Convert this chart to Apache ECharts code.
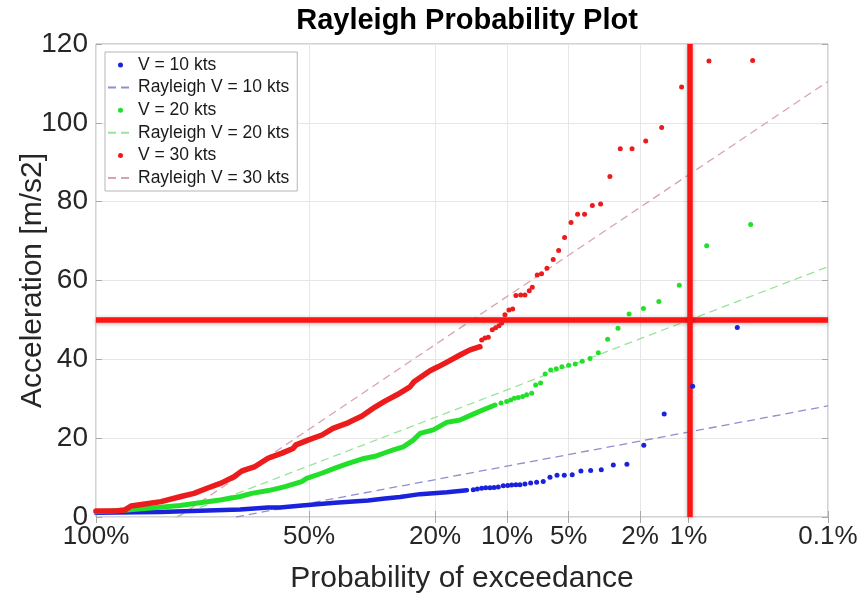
<!DOCTYPE html>
<html><head><meta charset="utf-8">
<script src="https://cdn.jsdelivr.net/npm/echarts@6/dist/echarts.min.js"></script>
<style>html,body{margin:0;padding:0;background:#fff}#chart{width:861px;height:595px}</style>
</head><body><div id="chart"></div>
<script>
// ---- axis definitions (probability of exceedance, %) ----
const xTickProbs = [99.1, 50, 20, 10, 5, 2, 1, 0.1];
const xTickLabels = ['100%', '50%', '20%', '10%', '5%', '2%', '1%', '0.1%'];
const xMinProb = 99.1;
const xMaxProb = 0.1;
const yTicks = [0, 20, 40, 60, 80, 100, 120];
const thresholdAcc = 50;
const thresholdProb = 1;

// ---- V = 10 kts ----
const v10DenseProb = [99.10, 90.46, 81.30, 70.32, 62.09, 58.53, 52.06, 42.73, 34.16, 30.14, 26.82, 22.78, 17.99, 14.94];
const v10DenseAcc  = [1.1, 1.3, 1.6, 1.9, 2.4, 2.4, 2.9, 3.6, 4.2, 4.7, 5.1, 5.8, 6.3, 6.8];
const v10Prob = [14.06, 13.52, 12.95, 12.44, 11.92, 11.44, 10.95, 10.40, 9.93, 9.52, 9.10, 8.71, 8.25, 7.75, 7.25, 6.73, 6.23, 5.74, 5.27, 4.79, 4.31, 3.82, 3.34, 2.86, 2.39, 1.90, 1.427, 0.942, 0.472];
const v10Acc  = [6.9, 7.1, 7.3, 7.4, 7.4, 7.5, 7.6, 7.9, 8.0, 8.1, 8.2, 8.2, 8.4, 8.6, 8.8, 9.0, 10.1, 10.6, 10.6, 10.7, 11.7, 11.8, 12.0, 13.2, 13.4, 18.2, 26.1, 33.2, 48.1];
const fit10Prob = [71.47, 0.1];
const fit10Acc  = [0, 28.2];

// ---- V = 20 kts ----
const v20DenseProb = [99.10, 95.99, 90.46, 86.17, 81.30, 75.97, 70.32, 66.91, 62.00, 58.53, 57.05, 52.15, 50.70, 46.42, 42.73, 39.16, 35.73, 32.47, 30.14, 28.28, 26.13, 24.09, 22.78, 20.32, 18.04, 15.96, 14.06, 12.74, 11.33];
const v20DenseAcc  = [1.3, 1.8, 2.5, 2.9, 3.6, 4.3, 5.2, 6.0, 6.7, 7.4, 7.7, 9.0, 9.8, 11.1, 12.4, 13.6, 14.7, 15.4, 16.3, 17.0, 17.8, 19.5, 21.2, 22.1, 24.0, 24.6, 26.1, 27.2, 28.4];
const v20Prob = [10.65, 10.04, 9.62, 9.26, 8.87, 8.46, 8.10, 7.66, 7.33, 6.94, 6.58, 6.18, 5.79, 5.42, 5.00, 4.62, 4.24, 3.85, 3.47, 3.08, 2.69, 2.32, 1.91, 1.54, 1.148, 0.762, 0.380];
const v20Acc  = [28.9, 29.3, 29.7, 30.1, 30.3, 30.6, 31.0, 31.4, 33.5, 34.0, 36.3, 37.3, 37.6, 38.1, 38.5, 38.8, 39.5, 40.2, 41.7, 45.1, 47.9, 51.5, 52.9, 54.7, 58.8, 68.8, 74.2];
const fit20Prob = [87.19, 0.1];
const fit20Acc  = [0, 63.5];

// ---- V = 30 kts ----
const v30DenseProb = [99.10, 98.42, 97.44, 96.25, 95.43, 93.23, 90.26, 85.94, 82.81, 79.48, 75.70, 72.04, 69.74, 65.94, 62.09, 57.94, 54.69, 53.81, 50.32, 46.33, 43.28, 39.25, 35.65, 32.47, 30.14, 27.47, 24.75, 23.95, 20.91, 19.50, 17.99, 15.96, 14.51, 13.17];
const v30DenseAcc  = [1.5, 1.5, 1.5, 1.8, 2.8, 3.3, 3.9, 5.2, 6.0, 7.3, 8.6, 10.2, 11.7, 12.8, 14.9, 16.2, 17.4, 18.3, 19.5, 20.8, 22.5, 23.9, 25.6, 27.9, 29.4, 31.0, 33.0, 34.3, 37.1, 38.1, 39.3, 41.1, 42.4, 43.2];
const v30Prob = [12.95, 12.53, 12.12, 11.64, 11.25, 10.87, 10.57, 10.22, 9.80, 9.42, 9.10, 8.64, 8.25, 7.87, 7.61, 7.20, 6.86, 6.45, 6.00, 5.63, 5.25, 4.86, 4.49, 4.12, 3.74, 3.37, 2.99, 2.61, 2.23, 1.85, 1.48, 1.11, 0.736, 0.368];
const v30Acc  = [44.9, 45.4, 45.6, 47.5, 48.0, 48.5, 49.2, 51.3, 52.5, 52.8, 56.2, 56.3, 56.3, 57.4, 58.3, 61.4, 61.7, 63.1, 65.3, 67.6, 70.9, 74.7, 76.8, 76.8, 79.0, 79.4, 86.4, 93.4, 93.4, 95.4, 98.8, 109.1, 115.7, 115.8];
const fit30Prob = [86.63, 0.1];
const fit30Acc  = [0, 110.5];

// Rayleigh reduced variate for the probability axis
const rz = p => Math.sqrt(-Math.log(p / 100));
const pairs = (ps, vs) => ps.map((p, i) => [rz(p), vs[i]]);
const xTickVals = xTickProbs.map(rz);

const FONT = 'Liberation Sans, Arial, Helvetica, sans-serif';
const C10 = '#1a22dc', C20 = '#22e02a', C30 = '#ec1c1c';
const F10 = '#8f8fcf', F20 = '#98e49a', F30 = '#d9a3ac';

const chart = echarts.init(document.getElementById('chart'), null, {renderer: 'canvas'});
const xLabelFmt = v => {
  for (let i = 0; i < xTickVals.length; i++) if (Math.abs(xTickVals[i] - v) < 1e-6) return xTickLabels[i];
  return '';
};
const boxColor = '#a9a9a9';
const hideSym = {opacity: 0, color: 'rgba(0,0,0,0)', borderWidth: 0};
chart.setOption({
  animation: false,
  backgroundColor: '#fff',
  textStyle: {fontFamily: FONT},
  title: {
    text: 'Rayleigh Probability Plot', left: 462, top: 1, textAlign: 'center',
    textStyle: {fontFamily: FONT, fontWeight: 'bold', fontSize: 29, color: '#000'}
  },
  grid: {left: 96, right: 33, top: 44, bottom: 78, show: true, borderColor: boxColor, borderWidth: 1,
         backgroundColor: '#fff', containLabel: false, outerBoundsMode: 'none'},
  legend: {
    left: 105, top: 52, orient: 'vertical',
    backgroundColor: '#fff', borderColor: '#b5b5b5', borderWidth: 1,
    padding: [4, 8, 4, 2], itemWidth: 25, itemHeight: 5, itemGap: 4.6, itemTextGap: 7,
    textStyle: {fontFamily: FONT, fontSize: 17.5, color: '#1a1a1a', lineHeight: 17.6},
    data: [
      {name: 'V = 10 kts'}, {name: 'Rayleigh V = 10 kts', itemStyle: hideSym},
      {name: 'V = 20 kts'}, {name: 'Rayleigh V = 20 kts', itemStyle: hideSym},
      {name: 'V = 30 kts'}, {name: 'Rayleigh V = 30 kts', itemStyle: hideSym}
    ]
  },
  xAxis: [{
    type: 'value', min: rz(xMinProb), max: rz(xMaxProb),
    name: 'Probability of exceedance', nameLocation: 'middle', nameGap: 47, nameMoveOverlap: false,
    nameTextStyle: {fontFamily: FONT, fontSize: 30, color: '#262626'},
    axisLine: {show: false},
    axisTick: {show: true, inside: true, length: 6, lineStyle: {color: boxColor}, customValues: xTickVals},
    axisLabel: {customValues: xTickVals, formatter: xLabelFmt, fontSize: 26, color: '#262626', margin: 7, fontFamily: FONT},
    splitLine: {show: true, lineStyle: {color: '#e6e6e6', width: 1}}
  }, {
    type: 'value', position: 'top', min: rz(xMinProb), max: rz(xMaxProb),
    axisLine: {show: false},
    axisTick: {show: true, inside: true, length: 6, lineStyle: {color: boxColor}, customValues: xTickVals},
    axisLabel: {show: false}, splitLine: {show: false}
  }],
  yAxis: [{
    type: 'value', min: 0, max: 120, interval: 20,
    name: 'Acceleration [m/s2]', nameLocation: 'middle', nameGap: 48, nameMoveOverlap: false,
    nameTextStyle: {fontFamily: FONT, fontSize: 30, color: '#262626'},
    axisLine: {show: false},
    axisTick: {show: true, inside: true, length: 6, lineStyle: {color: boxColor}},
    axisLabel: {fontSize: 28, color: '#262626', margin: 8, fontFamily: FONT},
    splitLine: {show: true, lineStyle: {color: '#e6e6e6', width: 1}}
  }, {
    type: 'value', position: 'right', min: 0, max: 120, interval: 20,
    axisLine: {show: false},
    axisTick: {show: true, inside: true, length: 6, lineStyle: {color: boxColor}},
    axisLabel: {show: false}, splitLine: {show: false}
  }],
  series: [
    {name: 'Rayleigh V = 10 kts', type: 'line', data: pairs(fit10Prob, fit10Acc), symbol: 'none', color: F10,
     lineStyle: {color: F10, width: 1.3, type: [8, 5]}, z: 2},
    {name: 'Rayleigh V = 20 kts', type: 'line', data: pairs(fit20Prob, fit20Acc), symbol: 'none', color: F20,
     lineStyle: {color: F20, width: 1.3, type: [8, 5]}, z: 2},
    {name: 'Rayleigh V = 30 kts', type: 'line', data: pairs(fit30Prob, fit30Acc), symbol: 'none', color: F30,
     lineStyle: {color: F30, width: 1.3, type: [8, 5]}, z: 2},
    {name: 'v10dense', type: 'line', data: pairs(v10DenseProb, v10DenseAcc), symbol: 'none', color: C10,
     lineStyle: {color: C10, width: 4.5, cap: 'round', join: 'round'}, z: 3},
    {name: 'v20dense', type: 'line', data: pairs(v20DenseProb, v20DenseAcc), symbol: 'none', color: C20,
     lineStyle: {color: C20, width: 5, cap: 'round', join: 'round'}, z: 3},
    {name: 'v30dense', type: 'line', data: pairs(v30DenseProb, v30DenseAcc), symbol: 'none', color: C30,
     lineStyle: {color: C30, width: 5.5, cap: 'round', join: 'round'}, z: 3},
    {name: 'thresholds', type: 'line', data: [], z: 4,
     markLine: {silent: true, symbol: 'none', label: {show: false}, animation: false,
       lineStyle: {color: '#ff1414', width: 5.5, type: 'solid', shadowBlur: 4, shadowColor: 'rgba(0,0,0,0.3)', shadowOffsetY: 1},
       data: [{yAxis: thresholdAcc}, {xAxis: rz(thresholdProb)}]}},
    {name: 'V = 10 kts', type: 'scatter', data: pairs(v10Prob, v10Acc), symbol: 'circle', symbolSize: 5, color: C10,
     itemStyle: {opacity: 1}, z: 5},
    {name: 'V = 20 kts', type: 'scatter', data: pairs(v20Prob, v20Acc), symbol: 'circle', symbolSize: 5, color: C20,
     itemStyle: {opacity: 1}, z: 5},
    {name: 'V = 30 kts', type: 'scatter', data: pairs(v30Prob, v30Acc), symbol: 'circle', symbolSize: 5, color: C30,
     itemStyle: {opacity: 1}, z: 5}
  ]
});
</script></body></html>
